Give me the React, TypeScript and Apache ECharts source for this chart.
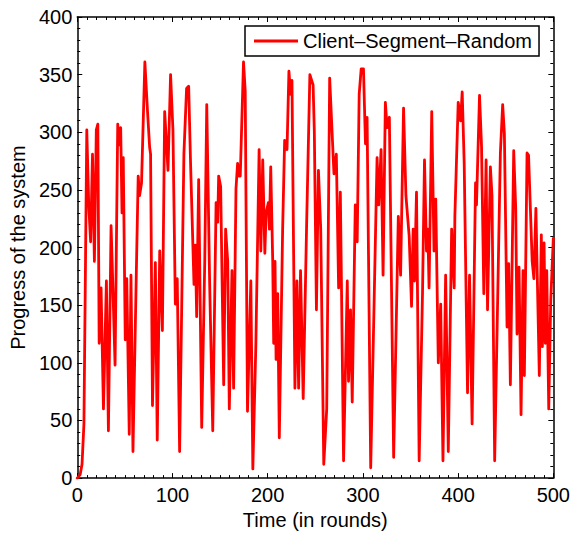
import React, { useEffect, useRef } from "react";
import * as echarts from "echarts";

const seriesName = "Client\u2013Segment\u2013Random";
const xTitle = "Time (in rounds)";
const yTitle = "Progress of the system";

const rounds = [
  0, 3, 5, 7, 10, 12, 14, 16, 18, 20, 21.6, 23, 25, 27.5, 30.6, 32.7, 35.5, 37.6, 39.7, 42.5,
  43.8, 45.6, 47, 48.3, 50.4, 52, 54.6, 56.4, 58.5, 61.6, 64, 65.4, 67.5, 71, 73.8, 76, 77, 79, 82, 84,
  86.6, 89.4, 91.8, 95.3, 98, 100.5, 103, 105, 107.5, 112, 114.8, 117, 119, 122.6, 124, 125.4, 127.5, 130.7, 133.9, 136,
  139, 142.3, 145.8, 147.5, 148.5, 150.6, 153.8, 155.8, 158, 159.7, 162.5, 164.2, 166.7, 168.4, 170, 171.2, 174.6, 176.4, 178.8, 182.3,
  184.4, 187.6, 191, 192.8, 194.8, 197, 198.3, 200.7, 201.8, 203.2, 205.3, 206.3, 207.7, 208.8, 210.5, 212.2, 215.7, 217.8, 220.3, 222.3,
  224.1, 225.5, 228.6, 230.7, 232.5, 234.5, 237.3, 240.8, 244.3, 247.7, 249, 251.2, 253.3, 255.7, 258.9, 262, 265.1, 269.6, 272.1, 274.5,
  276.3, 279.7, 283.6, 284.9, 287, 288.8, 292, 294, 296.1, 298.2, 300.6, 302.7, 304.4, 308.2, 314.9, 316.6, 319.1, 321.2, 323.6, 325.4,
  327.8, 332.3, 337.2, 339.6, 342.7, 345.2, 348.6, 351.1, 352.8, 354.2, 356.3, 359.1, 362.6, 364.7, 366.8, 368.2, 369.5, 372.3, 374.7, 376.5,
  379.2, 381.7, 384.1, 386.9, 389.7, 393.2, 395.9, 396.6, 400.1, 402.6, 404.3, 406.4, 409.9, 412, 414.7, 418.3, 419.3, 422.5, 424.6, 427,
  429.4, 430.9, 433.9, 435.6, 438.4, 444.4, 446.8, 448.6, 451.4, 453.1, 454.9, 458.4, 460.5, 461.9, 464, 466.1, 468.2, 469.6, 472.4, 474,
  477.8, 479.6, 481.7, 485.3, 487.4, 488.5, 490.3, 491.6, 493.1, 495.2, 497.3, 500,
];

const progress = [
  0, 3, 12, 47, 302, 238, 205, 281, 188, 302, 307, 117, 165, 60, 171, 41, 219, 160, 98, 307,
  289, 304, 230, 278, 120, 173, 38, 176, 23, 160, 262, 245, 256, 361, 318, 287, 281, 63, 187, 33,
  197, 128, 318, 267, 350, 302, 151, 173, 23, 281, 338, 340, 273, 168, 202, 140, 259, 44, 188, 324,
  171, 41, 239, 222, 262, 253, 81, 216, 188, 60, 180, 78, 251, 273, 262, 262, 361, 336, 58, 171,
  8, 117, 285, 197, 276, 195, 230, 239, 216, 270, 188, 117, 188, 103, 160, 35, 216, 293, 285, 353,
  333, 345, 78, 171, 78, 180, 69, 216, 350, 341, 300, 146, 267, 216, 12, 60, 347, 264, 281, 165,
  248, 15, 171, 84, 146, 66, 237, 205, 333, 355, 355, 290, 313, 9, 278, 237, 285, 176, 326, 304,
  313, 18, 227, 176, 321, 245, 210, 149, 216, 171, 248, 15, 160, 276, 197, 216, 165, 318, 197, 242,
  100, 151, 15, 176, 23, 216, 165, 227, 326, 310, 335, 273, 74, 176, 47, 256, 237, 332, 288, 160,
  276, 146, 270, 245, 15, 282, 324, 299, 131, 186, 81, 284, 234, 125, 183, 55, 180, 89, 282, 280,
  188, 173, 234, 89, 211, 114, 204, 117, 180, 60, 154, 208,
];

const xTicks = { min: 0, max: 500, interval: 100 };
const yTicks = { min: 0, max: 400, interval: 50 };

export default function App() {
  const ref = useRef<HTMLDivElement>(null);

  useEffect(() => {
    document.body.style.margin = "0";
    if (!ref.current) return;
    const chart = echarts.init(ref.current, undefined, { renderer: "svg" });
    const font = "Liberation Sans, Arial, Helvetica, sans-serif";
    const axisLine = { show: true, onZero: false, lineStyle: { color: "#000", width: 1.5 } };
    const tick = { show: true, inside: true, length: 5, lineStyle: { color: "#000", width: 1 } };
    const minor = (n: number) => ({
      show: true,
      splitNumber: n,
      length: 3,
      lineStyle: { color: "#000", width: 1 },
    });
    const data = rounds.map((r, i) => [r, progress[i]]);

    chart.setOption({
      animation: false,
      backgroundColor: "#fff",
      textStyle: { fontFamily: font },
      grid: { left: 76, right: 18, top: 17, bottom: 47, containLabel: false },
      legend: {
        show: true,
        left: 245,
        top: 26,
        orient: "horizontal",
        data: [{ name: seriesName, icon: "rect" }],
        itemWidth: 44,
        itemHeight: 3,
        itemGap: 6,
        padding: [5, 7, 5, 9],
        borderColor: "#000",
        borderWidth: 1.5,
        backgroundColor: "#fff",
        textStyle: { fontSize: 20, color: "#000", fontFamily: font },
      },
      xAxis: [
        {
          type: "value",
          position: "bottom",
          ...xTicks,
          name: xTitle,
          nameLocation: "middle",
          nameGap: 26,
          nameTextStyle: { fontSize: 20, color: "#000", fontFamily: font },
          axisLine,
          axisTick: tick,
          minorTick: minor(10),
          splitLine: { show: false },
          axisLabel: { show: true, fontSize: 20, color: "#000", margin: 7, fontFamily: font },
        },
        {
          type: "value",
          position: "top",
          ...xTicks,
          axisLine,
          axisTick: tick,
          minorTick: minor(10),
          splitLine: { show: false },
          axisLabel: { show: false },
        },
      ],
      yAxis: [
        {
          type: "value",
          position: "left",
          ...yTicks,
          name: yTitle,
          nameLocation: "middle",
          nameGap: 46,
          nameTextStyle: { fontSize: 20, color: "#000", fontFamily: font },
          axisLine,
          axisTick: tick,
          minorTick: minor(5),
          splitLine: { show: false },
          axisLabel: { show: true, fontSize: 20, color: "#000", margin: 5, fontFamily: font },
        },
        {
          type: "value",
          position: "right",
          ...yTicks,
          axisLine,
          axisTick: tick,
          minorTick: minor(5),
          splitLine: { show: false },
          axisLabel: { show: false },
        },
      ],
      series: [
        {
          name: seriesName,
          type: "line",
          xAxisIndex: 0,
          yAxisIndex: 0,
          data,
          showSymbol: false,
          symbol: "none",
          clip: true,
          itemStyle: { color: "#ff0000" },
          lineStyle: { color: "#ff0000", width: 2.8, join: "round", cap: "round" },
        },
      ],
    });

    return () => chart.dispose();
  }, []);

  return <div ref={ref} style={{ width: 573, height: 535 }} />;
}
